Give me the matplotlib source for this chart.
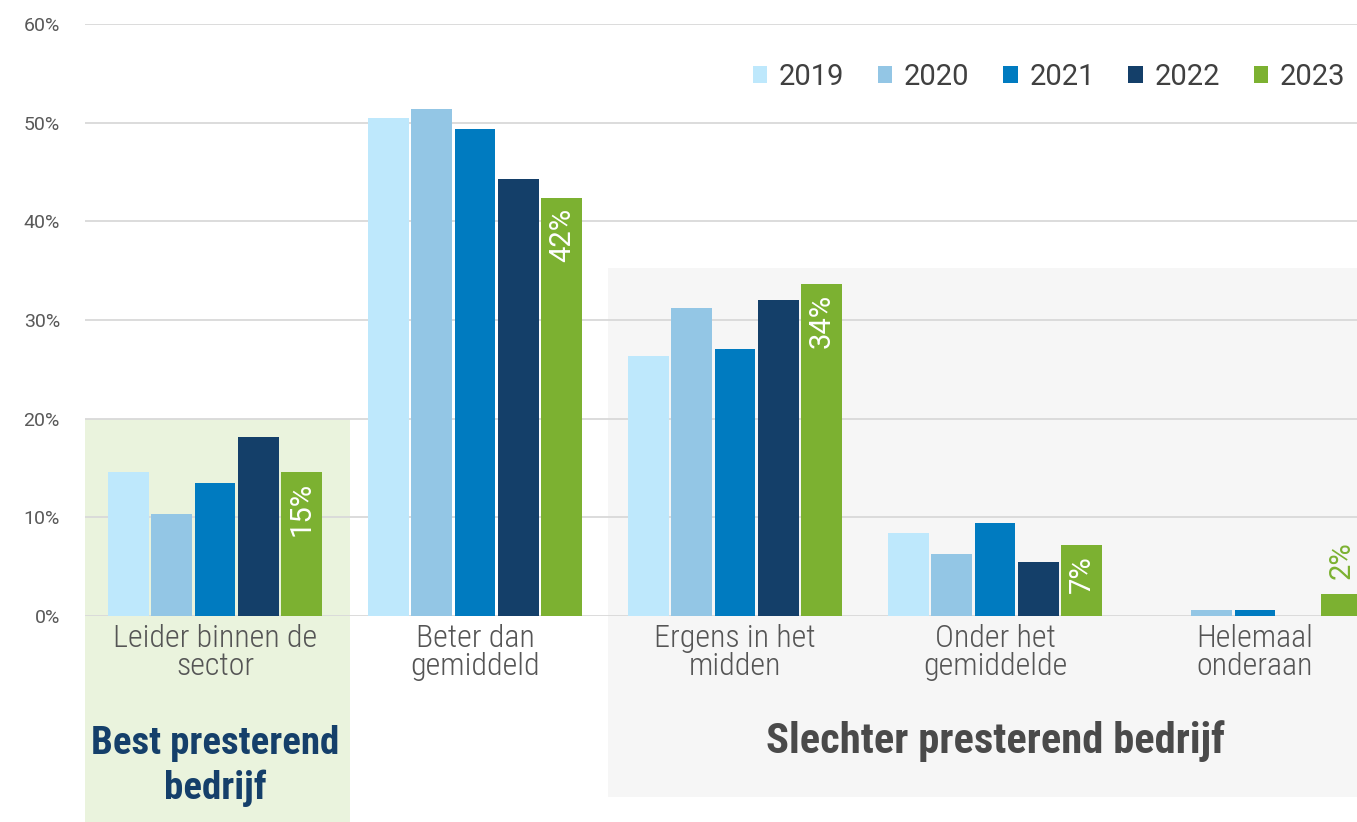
import numpy as np
import matplotlib.pyplot as plt
from matplotlib.patches import Rectangle, Patch

# data
categories = ['Leider binnen de\nsector', 'Beter dan\ngemiddeld', 'Ergens in het\nmidden',
              'Onder het\ngemiddelde', 'Helemaal\nonderaan']
years = ['2019', '2020', '2021', '2022', '2023']
v2019 = [14.6, 50.5, 26.4, 8.4, 0.0]
v2020 = [10.3, 51.4, 31.2, 6.3, 0.6]
v2021 = [13.5, 49.4, 27.1, 9.4, 0.6]
v2022 = [18.1, 44.3, 32.0, 5.5, 0.0]
v2023 = [14.6, 42.4, 33.6, 7.2, 2.2]
colors = ['#BEE8FC', '#93C6E5', '#007BC0', '#143F69', '#7CB131']
yticks = [0, 10, 20, 30, 40, 50, 60]

series = [v2019, v2020, v2021, v2022, v2023]

plt.rcParams['font.family'] = ['Roboto', 'DejaVu Sans']
W, H = 1357, 822
fig = plt.figure(figsize=(W / 100, H / 100), dpi=100)
# axes deliberately runs past the right edge, like the cropped original
ax = fig.add_axes([85 / W, (H - 616) / H, 1300 / W, 592 / H])
ax.patch.set_alpha(0)

x = np.arange(len(categories))
step = 0.167
width = 0.157
for i, (vals, col) in enumerate(zip(series, colors)):
    ax.bar(x + (i - 2) * step, vals, width, color=col, zorder=2, label=years[i])

# value labels for 2023
for xi, v in zip(x, v2023):
    xp = xi + 2 * step
    txt = f'{v:.0f}%'
    if v > 5:
        ax.text(xp, v - 1.0, txt, rotation=90, ha='center', va='top', color='white',
                fontsize=21, zorder=3)
    else:
        ax.text(xp, v + 1.6, txt, rotation=90, ha='center', va='bottom', color='#7CB131',
                fontsize=21, zorder=3)

cond = ['Roboto Condensed', 'Liberation Sans Narrow', 'DejaVu Sans']

ax.set_xlim(-0.5, 4.5)
ax.set_ylim(0, 60)
ax.set_yticks(yticks)
ax.set_yticklabels([f'{t}%' for t in yticks])
ax.set_xticks(x)
ax.set_xticklabels(categories, fontsize=23, fontweight='light', family=cond,
                   color='#555555', linespacing=0.95)
ax.tick_params(axis='x', length=0, pad=6)
ax.tick_params(axis='y', length=0, pad=18, labelsize=14, labelcolor='#595959')
for s in ax.spines.values():
    s.set_visible(False)
ax.yaxis.grid(True, color='#D9D9D9', linewidth=1.3, zorder=0.5)
ax.set_axisbelow(True)

# shaded group boxes
ax.add_patch(Rectangle((-0.5, -25), 1.02, 45, facecolor='#EAF3DD', edgecolor='none',
                       zorder=0.2, clip_on=False))
ax.add_patch(Rectangle((1.51, -18.35), 3.2, 53.6, facecolor='#F6F6F6', edgecolor='none',
                       zorder=0.2, clip_on=False))

ax.text(0.0, -15.2, 'Best presterend\nbedrijf', ha='center', va='center', fontsize=28,
        fontweight='bold', color='#153F6A', family=cond, linespacing=1.25, clip_on=False)
ax.text(3.0, -12.7, 'Slechter presterend bedrijf', ha='center', va='center', fontsize=30.7,
        fontweight='bold', color='#4A4A4A', family=cond, clip_on=False)

handles = [Patch(facecolor=c, edgecolor='none') for c in colors]
fig.legend(handles, years, loc='center right', bbox_to_anchor=(1.0, 1 - 77 / H), ncol=5,
           frameon=False, fontsize=21, handlelength=0.5, handleheight=0.5,
           handletextpad=0.4, columnspacing=1.15, labelcolor='#404040', borderaxespad=0)

fig.savefig('out.png', dpi=100)
